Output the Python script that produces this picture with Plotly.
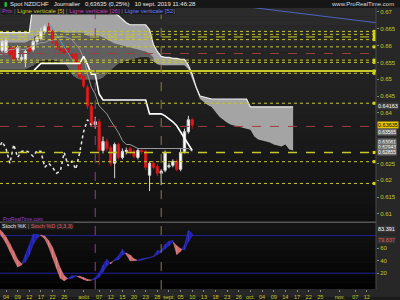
import plotly.graph_objects as go

# ---------------- data ----------------
idx = list(range(-1, 49))  # trading-day index, 0 = 4 juil. 2019
opens = [0.65854, 0.65795, 0.65912, 0.65942, 0.65648, 0.65589, 0.65589, 0.65971, 0.65883, 0.66118,
         0.66206, 0.66412, 0.66559, 0.66412, 0.66089, 0.65942, 0.65883, 0.65912, 0.65736, 0.65736,
         0.65530, 0.65089, 0.64766, 0.64207, 0.63649, 0.63737, 0.62884, 0.63149, 0.62972, 0.62502,
         0.63061, 0.62678, 0.62855, 0.62943, 0.62855, 0.62678, 0.62884, 0.62855, 0.62149, 0.62502,
         0.62414, 0.62208, 0.62296, 0.62399, 0.62443, 0.62561, 0.62326, 0.62855, 0.63443, 0.63796]
highs = [0.66206, 0.66236, 0.65971, 0.66001, 0.66001, 0.65736, 0.65883, 0.66030, 0.66236, 0.66324,
         0.66530, 0.66618, 0.66677, 0.66471, 0.66148, 0.66001, 0.65971, 0.66030, 0.65795, 0.65795,
         0.65589, 0.65148, 0.64825, 0.64266, 0.63884, 0.63825, 0.63296, 0.63237, 0.63031, 0.63119,
         0.63119, 0.62943, 0.62972, 0.63002, 0.62914, 0.62943, 0.62943, 0.62914, 0.62561, 0.62561,
         0.62473, 0.62326, 0.62884, 0.62502, 0.62620, 0.62620, 0.62943, 0.63531, 0.63913, 0.63854]
lows = [0.65795, 0.65736, 0.65648, 0.65530, 0.65559, 0.65530, 0.65354, 0.65736, 0.65824, 0.66030,
        0.66148, 0.66353, 0.66353, 0.66059, 0.65883, 0.65795, 0.65736, 0.65707, 0.65589, 0.65471,
        0.65001, 0.64736, 0.64119, 0.63590, 0.63531, 0.62443, 0.62796, 0.62855, 0.62414, 0.62061,
        0.62620, 0.62620, 0.62767, 0.62767, 0.62649, 0.62620, 0.62767, 0.62296, 0.61679, 0.62326,
        0.62120, 0.61855, 0.62237, 0.62355, 0.62384, 0.62267, 0.62267, 0.62796, 0.63384, 0.63531]
closes = [0.66118, 0.66148, 0.65736, 0.65589, 0.65942, 0.65648, 0.65824, 0.65824, 0.66118, 0.66236,
          0.66412, 0.66559, 0.66412, 0.66118, 0.65942, 0.65854, 0.65795, 0.65795, 0.65648, 0.65530,
          0.65060, 0.64795, 0.64207, 0.63649, 0.63737, 0.62884, 0.63149, 0.62943, 0.62502, 0.63061,
          0.62678, 0.62855, 0.62884, 0.62825, 0.62708, 0.62884, 0.62855, 0.62384, 0.62502, 0.62384,
          0.62208, 0.62267, 0.62825, 0.62429, 0.62561, 0.62326, 0.62825, 0.63443, 0.63796, 0.63635]

line_idx = list(range(-2, 49))
kijun = [0.65236, 0.65236, 0.65236, 0.65236, 0.65236, 0.65236, 0.65236, 0.65236, 0.65236, 0.65236,
         0.65354, 0.65471, 0.65471, 0.65471, 0.65471, 0.65471, 0.65471, 0.65471, 0.65471, 0.65471,
         0.65471, 0.65471, 0.65677, 0.65442, 0.65148, 0.65148, 0.64560, 0.64384, 0.64384, 0.64384,
         0.64384, 0.64384, 0.64384, 0.64384, 0.64384, 0.64384, 0.64384, 0.64384, 0.64384, 0.63972,
         0.63972, 0.63972, 0.63972, 0.63913, 0.63825, 0.63737, 0.63619, 0.63443, 0.63237, 0.63061,
         0.62884]
tenkan = [0.65736, 0.65736, 0.65824, 0.65883, 0.65883, 0.65942, 0.65883, 0.65883, 0.65942, 0.66001,
          0.66030, 0.66089, 0.66089, 0.66148, 0.66148, 0.66236, 0.66265, 0.66265, 0.66236, 0.66177,
          0.66030, 0.65883, 0.65648, 0.65148, 0.64766, 0.64560, 0.64207, 0.64090, 0.63972, 0.63766,
          0.63590, 0.63413, 0.63178, 0.63061, 0.63061, 0.63002, 0.62943, 0.62943, 0.62943, 0.62943,
          0.62943, 0.62943, 0.62943, 0.62943, 0.62943, 0.62943, 0.62943, 0.62943, 0.62943, 0.62943,
          0.62855]

cloud_idx = list(range(-2, 75))
cloud_top = [0.66383, 0.66383, 0.66383, 0.66383, 0.66383, 0.66383, 0.66383, 0.66383, 0.66383, 0.67265,
             0.66971, 0.66971, 0.66971, 0.66971, 0.66971, 0.66971, 0.66971, 0.66971, 0.66971, 0.66971,
             0.66971, 0.66971, 0.66971, 0.66971, 0.66971, 0.66971, 0.66971, 0.66971, 0.66971, 0.66971,
             0.66971, 0.66883, 0.66765, 0.66677, 0.66618, 0.66618, 0.66618, 0.66618, 0.66618, 0.66471,
             0.66030, 0.65824, 0.65677, 0.65648, 0.65648, 0.65618, 0.65618, 0.65589, 0.65589, 0.65413,
             0.65148, 0.64766, 0.64501, 0.64472, 0.64442, 0.64413, 0.64413, 0.64413, 0.64413, 0.64413,
             0.64413, 0.64413, 0.64413, 0.64413, 0.64413, 0.64178, 0.64178, 0.64178, 0.64178, 0.64178,
             0.64178, 0.64178, 0.64178, 0.64178, 0.64178, 0.64178, 0.64178]
cloud_bot = [0.65295, 0.65295, 0.65295, 0.65295, 0.65295, 0.65295, 0.65295, 0.65295, 0.65354, 0.65413,
             0.65501, 0.65559, 0.65589, 0.65589, 0.65589, 0.65559, 0.65530, 0.65501, 0.65354, 0.65148,
             0.65060, 0.65001, 0.65001, 0.65001, 0.65001, 0.65001, 0.65001, 0.65060, 0.65177, 0.65295,
             0.65383, 0.65471, 0.65530, 0.65559, 0.65589, 0.65618, 0.65648, 0.65677, 0.65677, 0.65648,
             0.65530, 0.65442, 0.65413, 0.65413, 0.65413, 0.65413, 0.65413, 0.65413, 0.65413, 0.65295,
             0.65001, 0.64648, 0.64413, 0.64325, 0.64237, 0.64178, 0.64031, 0.63884, 0.63796, 0.63707,
             0.63649, 0.63619, 0.63590, 0.63561, 0.63531, 0.63502, 0.63296, 0.63208, 0.63178, 0.63149,
             0.63119, 0.63061, 0.63031, 0.63002, 0.63061, 0.62914, 0.62884]
dark_idx = list(range(-2, 39))
cloud_mid = [0.66089, 0.66089, 0.66089, 0.66089, 0.66089, 0.66089, 0.66089, 0.66089, 0.66148, 0.66236,
             0.66324, 0.66383, 0.66412, 0.66412, 0.66412, 0.66412, 0.66412, 0.66383, 0.66383, 0.66383,
             0.66383, 0.66383, 0.66383, 0.66295, 0.66295, 0.66295, 0.66295, 0.66236, 0.66177, 0.66118,
             0.66059, 0.66030, 0.66001, 0.65971, 0.65942, 0.65912, 0.65883, 0.65854, 0.65824, 0.65765,
             0.65648]

stoch_k = [86, 78, 68, 55, 42, 30, 33, 50, 65, 82, 82, 80, 75, 62, 45, 28, 12, 8, 12, 16,
           16, 13, 10, 8, 9, 13, 20, 33, 42, 35, 42, 48, 58, 50, 40, 40, 41, 43, 44, 45,
           47, 56, 56, 66, 71, 72, 50, 55, 65, 88, 83.391]
stoch_d = [92, 86, 78, 67, 55, 42, 35, 38, 49, 66, 76, 81, 79, 72, 61, 45, 28, 16, 11, 12,
           15, 15, 13, 10, 9, 10, 14, 22, 32, 37, 40, 42, 49, 52, 49, 43, 40, 41, 43, 44,
           46, 50, 54, 59, 64, 70, 64, 59, 57, 70, 79.837]

h_levels = [0.66421, 0.66333, 0.66256, 0.66177, 0.65962, 0.65568, 0.65501, 0.65245, 0.65177,
            0.64287, 0.62825, 0.62552, 0.61905]
h_dash = ["dot", "dot", "dash", "dot", "dot", "dot", "dot", "solid", "dot", "dot", "dash", "dot", "dot"]
h_width = [1, 1, 1, 1, 1, 1, 1, 2, 1, 1, 1.5, 1, 1]
red_levels = [0.65765, 0.63599]
v_lines = [23, 40]
v_colors = ["#8e3f8e", "#8a7a45"]
trend_x = [60, 96]
trend_y = [0.6718, 0.6667]
cyan_x = [11.1, 17.5]
cyan_y = [0.66677, 0.65501]

tick_idx = [0, 3, 6, 9, 12, 15, 20, 24, 27, 30, 33, 36, 39, 42, 45, 48, 51, 54, 57, 60, 63, 66,
            69, 72, 75, 78, 81, 86, 90, 93]
tick_txt = ["04", "09", "12", "17", "22", "25", "août", "07", "12", "15", "20", "23", "28", "sept.",
            "05", "10", "13", "18", "23", "26", "oct.", "04", "09", "14", "17", "22", "25", "nov.",
            "07", "12"]
price_ticks = [0.61, 0.615, 0.62, 0.625, 0.64, 0.645, 0.65, 0.655, 0.66, 0.665, 0.67]
stoch_ticks = [20, 40, 60]
box_prices = [0.64207, 0.63440, 0.63149, 0.62987, 0.62825]
box_texts = ["0.64163", "0.63565", "0.63061", "0.62943", "0.62855"]

# ---------------- figure ----------------
YEL = "#c8c828"
FONT = "Liberation Sans"
XR = [-1.546, 95.36]
YR = [0.60767, 0.67118]
fig = go.Figure()

# cloud (light) between top & bottom -- base subplot
fig.add_trace(go.Scatter(x=cloud_idx, y=cloud_bot, mode="lines", line=dict(width=0, color="#999"),
                         hoverinfo="skip", showlegend=False))
fig.add_trace(go.Scatter(x=cloud_idx, y=cloud_top, mode="lines", line=dict(width=1.2, color="#f0f0f0"),
                         fill="tonexty", fillcolor="#a4a4a4", hoverinfo="skip", showlegend=False))
fig.add_trace(go.Scatter(x=dark_idx, y=cloud_bot[:len(dark_idx)], mode="lines", line=dict(width=0),
                         hoverinfo="skip", showlegend=False))
fig.add_trace(go.Scatter(x=dark_idx, y=cloud_mid, mode="lines", line=dict(width=0),
                         fill="tonexty", fillcolor="#606060", hoverinfo="skip", showlegend=False))

# overlay subplot: candles and lines on top of the cloud
fig.add_trace(go.Candlestick(x=idx, open=opens, high=highs, low=lows, close=closes,
                             increasing=dict(line=dict(color="#d8d8d8", width=1), fillcolor="#ffffff"),
                             decreasing=dict(line=dict(color="#c81818", width=1), fillcolor="#ee1c1c"),
                             whiskerwidth=0, showlegend=False, hoverinfo="skip",
                             xaxis="x3", yaxis="y3"))
fig.add_trace(go.Scatter(x=cyan_x, y=cyan_y, mode="lines", line=dict(width=1, color="#3fa9d8"),
                         hoverinfo="skip", showlegend=False, xaxis="x3", yaxis="y3"))
fig.add_trace(go.Scatter(x=trend_x, y=trend_y, mode="lines", line=dict(width=1, color="#4a64c0"),
                         hoverinfo="skip", showlegend=False, xaxis="x3", yaxis="y3"))
fig.add_trace(go.Scatter(x=line_idx, y=tenkan, mode="lines", line=dict(width=1, color="#9a9a9a"),
                         hoverinfo="skip", showlegend=False, xaxis="x3", yaxis="y3"))
fig.add_trace(go.Scatter(x=line_idx, y=kijun, mode="lines", line=dict(width=1.6, color="#ffffff"),
                         hoverinfo="skip", showlegend=False, xaxis="x3", yaxis="y3"))
chik_x = [i - 26 for i in idx[25:]]
chik_y = closes[25:]
fig.add_trace(go.Scatter(x=chik_x, y=chik_y, mode="lines", line=dict(width=1.5, color="#e6e6e6", dash="dot"),
                         hoverinfo="skip", showlegend=False, xaxis="x3", yaxis="y3"))
# small yellow level flags at the right edge
fig.add_trace(go.Scatter(x=[94.9] * len(h_levels), y=h_levels, mode="markers",
                         marker=dict(symbol="square", size=3, color="#e0e000"),
                         hoverinfo="skip", showlegend=False, xaxis="x3", yaxis="y3", cliponaxis=False))

# stochastic ribbon
def ribbon(xs, k, d):
    b, r = ([], []), ([], [])
    for j in range(len(xs) - 1):
        x1, x2 = xs[j], xs[j + 1]
        a1, a2 = k[j] - d[j], k[j + 1] - d[j + 1]
        if a1 * a2 >= 0:
            tgt = b if (a1 + a2) >= 0 else r
            tgt[0].extend([x1, x2, x2, x1, x1, None])
            tgt[1].extend([k[j], k[j + 1], d[j + 1], d[j], k[j], None])
        else:
            t = a1 / (a1 - a2)
            xc = x1 + t * (x2 - x1)
            yc = k[j] + t * (k[j + 1] - k[j])
            t1 = b if a1 > 0 else r
            t1[0].extend([x1, xc, x1, x1, None])
            t1[1].extend([k[j], yc, d[j], k[j], None])
            t2 = b if a2 > 0 else r
            t2[0].extend([xc, x2, x2, xc, None])
            t2[1].extend([yc, k[j + 1], d[j + 1], yc, None])
    return b, r

blue, red = ribbon(line_idx, stoch_k, stoch_d)
fig.add_trace(go.Scatter(x=blue[0], y=blue[1], mode="lines", fill="toself", fillcolor="#1e1eb0",
                         line=dict(width=0.5, color="#3a3ad0"), xaxis="x2", yaxis="y2",
                         hoverinfo="skip", showlegend=False))
fig.add_trace(go.Scatter(x=red[0], y=red[1], mode="lines", fill="toself", fillcolor="#d06a6a",
                         line=dict(width=0.5, color="#e08888"), xaxis="x2", yaxis="y2",
                         hoverinfo="skip", showlegend=False))

# ---------------- layout & decoration ----------------
shapes = []
n = 24
for j in range(n):
    y0 = 0.25333 + (0.97333 - 0.25333) * j / n
    y1 = 0.25333 + (0.97333 - 0.25333) * (j + 1) / n
    c = int(15 + (44 - 15) * (j + 0.5) / n)
    shapes.append(dict(type="rect", xref="paper", yref="paper", x0=0, x1=0.94, y0=y0, y1=y1,
                       fillcolor=f"rgb({c},{c},{c})", line=dict(width=0), layer="below"))
for j in range(10):
    y0 = 0.02667 + (0.25 - 0.02667) * j / 10
    y1 = 0.02667 + (0.25 - 0.02667) * (j + 1) / 10
    c = int(2 + 18 * (j + 0.5) / 10)
    shapes.append(dict(type="rect", xref="paper", yref="paper", x0=0, x1=0.94, y0=y0, y1=y1,
                       fillcolor=f"rgb({c},{c},{c})", line=dict(width=0), layer="below"))
shapes.append(dict(type="line", xref="paper", yref="paper", x0=0, x1=0.94, y0=0.2515, y1=0.2515,
                   line=dict(color="#555555", width=1.5)))
shapes.append(dict(type="rect", xref="paper", yref="paper", x0=0.94, x1=1, y0=0, y1=1,
                   fillcolor="#272727", line=dict(width=0), layer="below"))
shapes.append(dict(type="line", xref="paper", yref="paper", x0=0.94, x1=0.94, y0=0.0267, y1=0.975,
                   line=dict(color="#4a4a4a", width=1)))
shapes.append(dict(type="rect", xref="paper", yref="paper", x0=0, x1=0.94, y0=0, y1=0.0267,
                   fillcolor="#272727", line=dict(width=0), layer="below"))
shapes.append(dict(type="rect", xref="paper", yref="paper", x0=0, x1=1, y0=0.975, y1=1,
                   fillcolor="#161616", line=dict(width=0), layer="below"))
for lv, ds, w in zip(h_levels, h_dash, h_width):
    shapes.append(dict(type="line", xref="paper", yref="y", x0=0, x1=0.94, y0=lv, y1=lv,
                       line=dict(color=YEL, width=w, dash=ds), layer="above"))
for lv in red_levels:
    shapes.append(dict(type="line", xref="paper", yref="y", x0=0, x1=0.94, y0=lv, y1=lv,
                       line=dict(color="#9a4040", width=1, dash="dash"), layer="above"))
for vx, vc in zip(v_lines, v_colors):
    shapes.append(dict(type="line", xref="x", yref="paper", x0=vx, x1=vx, y0=0.0267, y1=0.973,
                       line=dict(color=vc, width=1, dash="dash"), layer="above"))
for lv in [80, 20]:
    shapes.append(dict(type="line", xref="paper", yref="y2", x0=0, x1=0.94, y0=lv, y1=lv,
                       line=dict(color="#22229a", width=1), layer="below"))

ann = []
ann.append(dict(xref="paper", yref="paper", x=0.02, y=0.988, xanchor="left", yanchor="middle",
                text="Spot NZDCHF   Journalier   0,63635 (0,25%)   10 sept. 2019 11:46:28",
                showarrow=False, font=dict(color="#e8e8e8", size=6, family=FONT)))
ann.append(dict(xref="paper", yref="paper", x=0.005, y=0.988, xanchor="left", yanchor="middle",
                text="▮", showarrow=False, font=dict(color="#30c030", size=6, family=FONT)))
ann.append(dict(xref="paper", yref="paper", x=0.99, y=0.988, xanchor="right", yanchor="middle",
                text="www.ProRealTime.com", showarrow=False, font=dict(color="#d8d8d8", size=6, family=FONT)))
ann.append(dict(xref="paper", yref="paper", x=0.003, y=0.962, xanchor="left", yanchor="middle",
                text="<span style='color:#c040c0'>Prix</span> <span style='color:#888'>|</span> "
                     "<span style='color:#c8c828'>Ligne verticale [5]</span> <span style='color:#888'>|</span> "
                     "<span style='color:#c040c0'>Ligne verticale [26]</span> <span style='color:#888'>|</span> "
                     "<span style='color:#6a7aff'>Ligne verticale [52]</span>",
                showarrow=False, bgcolor="#1c1c1c", borderpad=0, font=dict(size=6, family=FONT)))
ann.append(dict(xref="paper", yref="paper", x=0.003, y=0.262, xanchor="left", yanchor="middle",
                text="ProRealTime.com", showarrow=False, font=dict(color="#a040c0", size=5, family=FONT)))
ann.append(dict(xref="paper", yref="paper", x=0.003, y=0.24, xanchor="left", yanchor="middle",
                text="<span style='color:#e8e8e8'>Stoch %K</span> <span style='color:#888'>|</span> "
                     "<span style='color:#e06060'>Stoch %D (3,3,3)</span>",
                showarrow=False, bgcolor="#222222", borderpad=0, font=dict(size=5.5, family=FONT)))
ann.append(dict(xref="paper", yref="y", x=0.943, y=box_prices[0], xanchor="left", yanchor="middle",
                text=box_texts[0], showarrow=False, bgcolor="#3a3a3a", borderpad=0,
                font=dict(color="#ffffff", size=5.5, family=FONT)))
ann.append(dict(xref="paper", yref="y", x=0.943, y=closes[-1], xanchor="left", yanchor="middle",
                text=f"{closes[-1]:.5f}", showarrow=False, bgcolor="#e8c800", borderpad=0,
                font=dict(color="#000000", size=5.5, family=FONT)))
for vv, tt in zip(box_prices[1:], box_texts[1:]):
    ann.append(dict(xref="paper", yref="y", x=0.943, y=vv, xanchor="left", yanchor="middle",
                    text=tt, showarrow=False, bgcolor="#6a6a6a", borderpad=0,
                    font=dict(color="#ffffff", size=5, family=FONT)))
ann.append(dict(xref="paper", yref="y2", x=0.943, y=stoch_k[-1], xanchor="left", yanchor="bottom",
                text=f"{stoch_k[-1]:.3f}", showarrow=False, bgcolor="#333333", borderpad=0,
                font=dict(color="#ffffff", size=5.5, family=FONT)))
ann.append(dict(xref="paper", yref="y2", x=0.943, y=stoch_d[-1], xanchor="left", yanchor="top",
                text=f"{stoch_d[-1]:.3f}", showarrow=False, bgcolor="#333333", borderpad=0,
                font=dict(color="#e05050", size=5.5, family=FONT)))

fig.update_layout(
    width=400, height=300, margin=dict(l=0, r=0, t=0, b=0),
    paper_bgcolor="#1a1a1a", plot_bgcolor="rgba(0,0,0,0)",
    showlegend=False, shapes=shapes, annotations=ann, boxgap=0.15,
    xaxis=dict(domain=[0, 0.94], range=XR, anchor="y", showticklabels=False,
               showgrid=False, zeroline=False, fixedrange=True),
    xaxis2=dict(domain=[0, 0.94], range=XR, anchor="y2", showgrid=False, zeroline=False,
                tickmode="array", tickvals=tick_idx, ticktext=tick_txt, ticks="outside", ticklen=2,
                tickangle=0, tickcolor="#888", tickfont=dict(color=YEL, size=5.5, family=FONT)),
    xaxis3=dict(overlaying="x", range=XR, anchor="y3", visible=False,
                rangeslider=dict(visible=False)),
    yaxis=dict(domain=[0.25333, 0.97333], range=YR, side="right", anchor="x",
               showgrid=False, zeroline=False, tickmode="array", tickvals=price_ticks,
               ticktext=[f"{v:g}" for v in price_ticks], ticks="outside", ticklen=2, tickcolor="#888",
               tickfont=dict(color=YEL, size=6, family=FONT)),
    yaxis2=dict(domain=[0.02667, 0.25], range=[-5.3, 100.5], side="right", anchor="x2",
                showgrid=False, zeroline=False, tickmode="array", tickvals=stoch_ticks,
                ticktext=[str(v) for v in stoch_ticks], ticks="outside", ticklen=2, tickcolor="#888",
                tickfont=dict(color=YEL, size=6, family=FONT)),
    yaxis3=dict(overlaying="y", range=YR, anchor="x3", visible=False),
)

fig.write_html("out.html")
